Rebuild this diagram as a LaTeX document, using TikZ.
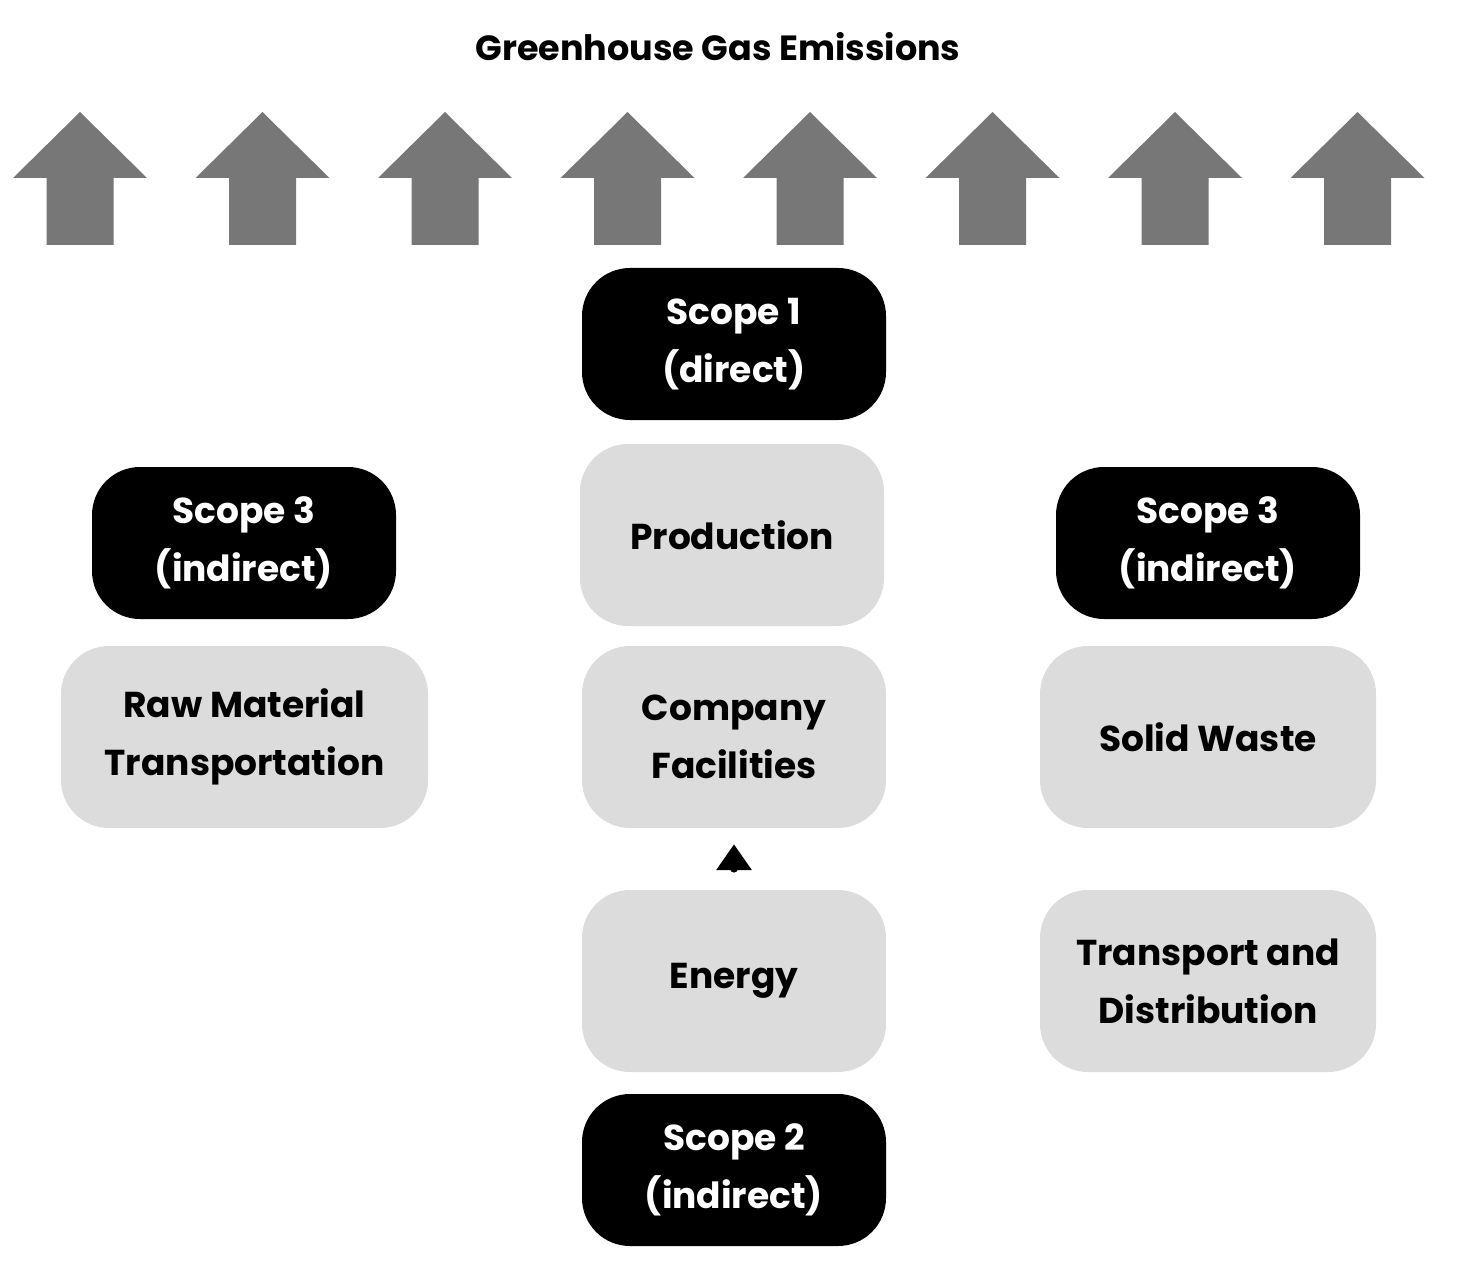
\documentclass[tikz,border=0pt]{standalone}
\usetikzlibrary{arrows.meta}
\usepackage{fontspec}
\setmainfont{Poppins}[BoldFont={* Bold}]
\begin{document}
\begin{tikzpicture}[x=1pt,y=-1pt,
  box/.style={rounded corners=48pt,fill=#1,draw=none,align=center,font=\fontsize{36}{58}\selectfont\bfseries},
  dark/.style={box=black,text=white},
  light/.style={box=boxgray,text=black}]
\definecolor{boxgray}{HTML}{DCDCDC}
\definecolor{arrgray}{HTML}{777777}
\useasboundingbox (0,0) rectangle (1462,1273);
\node[font=\fontsize{35}{40}\selectfont\bfseries] (title) at (718,47) {Greenhouse Gas Emissions};
\foreach \c in {80,262.5,445,627.5,810,992.5,1175,1357.5}{
  \fill[arrgray] (\c,112) -- (\c+67,178) -- (\c+33.5,178) -- (\c+33.5,245) -- (\c-33.5,245) -- (\c-33.5,178) -- (\c-67,178) -- cycle;
}
\node[dark,minimum width=304pt,minimum height=152pt] (s1) at (734,344) {Scope 1\\(direct)};
\node[light,minimum width=304pt,minimum height=182pt] (prod) at (732,535) {Production};
\node[light,minimum width=304pt,minimum height=182pt] (fac) at (734,737) {Company\\Facilities};
\node[light,minimum width=304pt,minimum height=182pt] (en) at (734,981) {Energy};
\node[dark,minimum width=304pt,minimum height=152pt] (s2) at (734,1170) {Scope 2\\(indirect)};
\node[dark,minimum width=304pt,minimum height=152pt] (s3l) at (244,543) {Scope 3\\(indirect)};
\node[light,minimum width=367pt,minimum height=182pt] (raw) at (244.5,737) {Raw Material\\Transportation};
\node[dark,minimum width=304pt,minimum height=152pt] (s3r) at (1208,543) {Scope 3\\(indirect)};
\node[light,minimum width=336pt,minimum height=182pt] (sw) at (1208,737) {Solid Waste};
\node[light,minimum width=336pt,minimum height=182pt] (td) at (1208,981) {Transport and\\Distribution};
\draw[line width=8pt,line cap=round,-{Triangle[length=26pt,width=34pt]}] ([yshift=30pt]en.north) -- ([yshift=-16pt]fac.south);
\end{tikzpicture}
\end{document}
